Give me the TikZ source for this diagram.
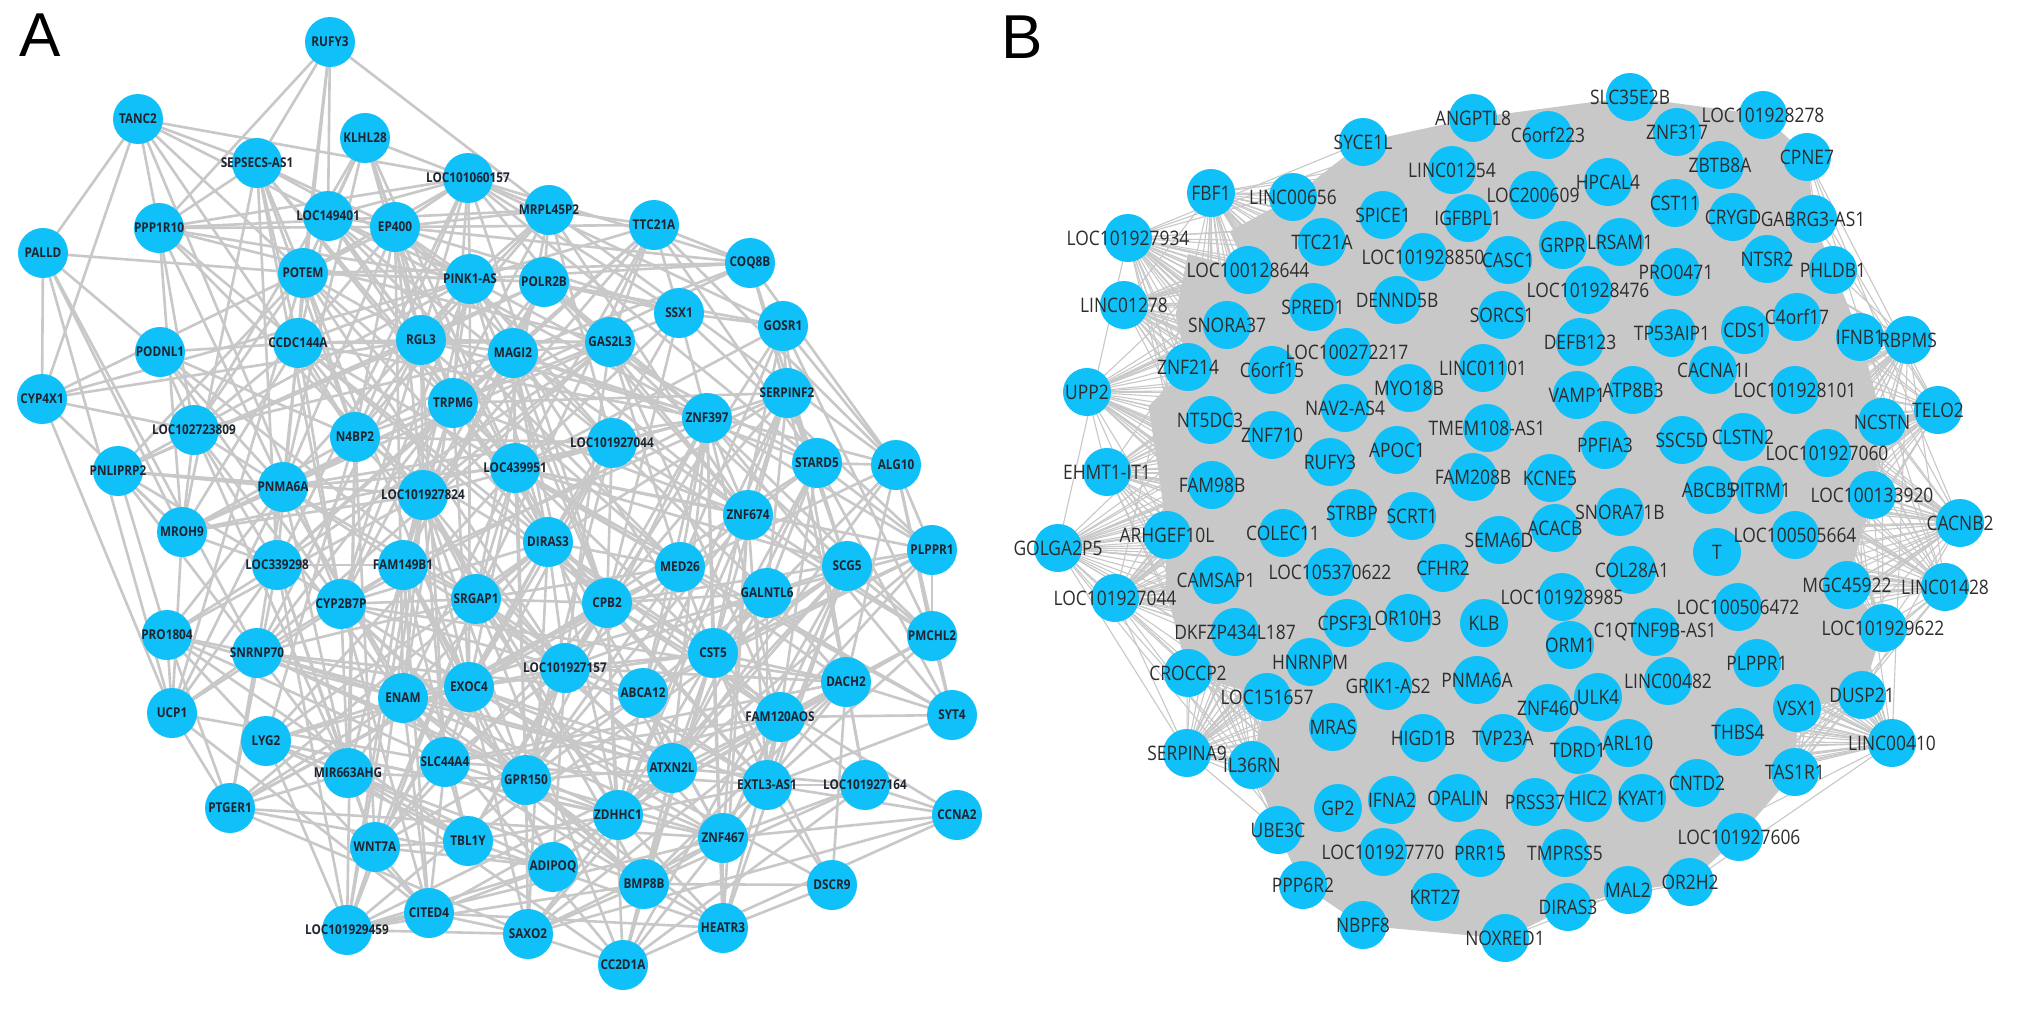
\documentclass[tikz,border=0pt]{standalone}
\usepackage{fontspec}
\setmainfont{Liberation Sans}
\newfontfamily\labfont[FakeStretch=0.87]{Open Sans}
\usetikzlibrary{backgrounds,calc}
\pgfdeclarelayer{bottom}
\pgfsetlayers{bottom,background,main}
\definecolor{nodecyan}{RGB}{16,192,248}
\definecolor{edgegray}{RGB}{200,200,200}
\definecolor{labdark}{RGB}{30,36,48}
\definecolor{labgray}{RGB}{45,45,45}
\tikzset{
 anode/.style={circle,fill=nodecyan,minimum size=50pt,inner sep=0pt},
 bnode/.style={circle,fill=nodecyan,minimum size=48pt,inner sep=0pt},
 alab/.style={inner sep=0pt,text=labdark,font=\labfont\bfseries\fontsize{13.5}{13.5}\selectfont},
 blab/.style={inner sep=0pt,text=labgray,font=\labfont\fontsize{20}{20}\selectfont},
 aedge/.style={draw=edgegray,line width=2.6pt},
 bedge/.style={draw=edgegray,line width=1.1pt},
 bmass/.style={fill=edgegray},
 panellab/.style={inner sep=0pt,font=\fontsize{62}{62}\selectfont}
}
\def\alist{330/42/RUFY3, 138/119/TANC2, 365/138/KLHL28, 257/163/SEPSECS-AS1, 468/178/LOC101060157, 328/216/LOC149401, 395/227/EP400, 159/228/PPP1R10, 43/253/PALLD, 303/273/POTEM, 470/279/PINK1-AS, 160/352/PODNL1, 298/343/CCDC144A, 421/340/RGL3, 42/399/CYP4X1, 453/403/TRPM6, 194/430/LOC102723809, 355/437/N4BP2, 118/471/PNLIPRP2, 283/487/PNMA6A, 423/495/LOC101927824, 549/210/MRPL45P2, 654/225/TTC21A, 750/263/COQ8B, 544/282/POLR2B, 679/313/SSX1, 783/326/GOSR1, 610/342/GAS2L3, 513/353/MAGI2, 787/393/SERPINF2, 707/418/ZNF397, 612/443/LOC101927044, 515/468/LOC439951, 817/463/STARD5, 896/465/ALG10, 748/515/ZNF674, 182/532/MROH9, 277/565/LOC339298, 403/565/FAM149B1, 476/599/SRGAP1, 341/604/CYP2B7P, 167/635/PRO1804, 257/653/SNRNP70, 403/698/ENAM, 469/687/EXOC4, 172/713/UCP1, 266/741/LYG2, 445/762/SLC44A4, 348/773/MIR663AHG, 230/808/PTGER1, 375/847/WNT7A, 468/841/TBL1Y, 429/913/CITED4, 347/930/LOC101929459, 548/542/DIRAS3, 932/550/PLPPR1, 680/567/MED26, 847/566/SCG5, 767/593/GALNTL6, 607/603/CPB2, 932/636/PMCHL2, 713/653/CST5, 565/668/LOC101927157, 846/682/DACH2, 643/693/ABCA12, 952/715/SYT4, 780/717/FAM120AOS, 672/768/ATXN2L, 526/780/GPR150, 767/785/EXTL3-AS1, 865/785/LOC101927164, 957/815/CCNA2, 618/815/ZDHHC1, 723/838/ZNF467, 553/867/ADIPOQ, 644/884/BMP8B, 832/885/DSCR9, 528/934/SAXO2, 723/928/HEATR3, 623/965/CC2D1A}
\def\blist{1128/238/LOC101927934, 1211/193/FBF1, 1293/197/LINC00656, 1363/142/SYCE1L, 1473/118/ANGPTL8, 1452/170/LINC01254, 1383/215/SPICE1, 1468/218/IGFBPL1, 1322/242/TTC21A, 1423/257/LOC101928850, 1248/270/LOC100128644, 1124/305/LINC01278, 1313/307/SPRED1, 1397/300/DENND5B, 1227/325/SNORA37, 1347/352/LOC100272217, 1188/367/ZNF214, 1272/370/C6orf15, 1409/388/MYO18B, 1087/392/UPP2, 1630/97/SLC35E2B, 1548/135/C6orf223, 1677/132/ZNF317, 1763/115/LOC101928278, 1807/157/CPNE7, 1720/165/ZBTB8A, 1608/182/HPCAL4, 1533/195/LOC200609, 1675/203/CST11, 1733/217/CRYGD, 1813/219/GABRG3-AS1, 1563/245/GRPR, 1620/242/LRSAM1, 1508/260/CASC1, 1767/259/NTSR2, 1833/270/PHLDB1, 1676/272/PRO0471, 1588/290/LOC101928476, 1502/315/SORCS1, 1797/317/C4orf17, 1580/342/DEFB123, 1672/333/TP53AIP1, 1745/330/CDS1, 1860/337/IFNB1, 1908/340/RBPMS, 1483/368/LINC01101, 1713/370/CACNA1I, 1795/390/LOC101928101, 1633/390/ATP8B3, 1577/395/VAMP1, 1210/420/NT5DC3, 1272/435/ZNF710, 1345/408/NAV2-AS4, 1487/428/TMEM108-AS1, 1330/462/RUFY3, 1397/450/APOC1, 1107/472/EHMT1-IT1, 1212/485/FAM98B, 1473/477/FAM208B, 1352/513/STRBP, 1412/516/SCRT1, 1058/548/GOLGA2P5, 1167/535/ARHGEF10L, 1283/533/COLEC11, 1499/540/SEMA6D, 1216/580/CAMSAP1, 1330/572/LOC105370622, 1443/568/CFHR2, 1115/598/LOC101927044, 1235/632/DKFZP434L187, 1347/623/CPSF3L, 1408/618/OR10H3, 1484/623/KLB, 1188/673/CROCCP2, 1310/662/HNRNPM, 1388/686/GRIK1-AS2, 1477/680/PNMA6A, 1267/697/LOC151657, 1882/422/NCSTN, 1938/410/TELO2, 1605/445/PPFIA3, 1682/440/SSC5D, 1743/437/CLSTN2, 1827/453/LOC101927060, 1550/478/KCNE5, 1709/490/ABCB5, 1760/490/PITRM1, 1872/495/LOC100133920, 1620/512/SNORA71B, 1960/523/CACNB2, 1555/528/ACACB, 1717/552/T, 1795/535/LOC100505664, 1632/570/COL28A1, 1847/585/MGC45922, 1945/587/LINC01428, 1562/597/LOC101928985, 1738/607/LOC100506472, 1570/645/ORM1, 1655/632/C1QTNF9B-AS1, 1883/628/LOC101929622, 1757/663/PLPPR1, 1668/681/LINC00482, 1862/695/DUSP21, 1598/697/ULK4, 1333/727/MRAS, 1423/738/HIGD1B, 1503/738/TVP23A, 1187/753/SERPINA9, 1252/765/IL36RN, 1338/808/GP2, 1392/800/IFNA2, 1458/798/OPALIN, 1278/830/UBE3C, 1383/852/LOC101927770, 1480/853/PRR15, 1303/885/PPP6R2, 1435/897/KRT27, 1363/925/NBPF8, 1505/938/NOXRED1, 1548/708/ZNF460, 1797/708/VSX1, 1738/732/THBS4, 1578/750/TDRD1, 1628/743/ARL10, 1892/743/LINC00410, 1795/772/TAS1R1, 1697/783/CNTD2, 1535/802/PRSS37, 1588/798/HIC2, 1642/798/KYAT1, 1739/837/LOC101927606, 1565/853/TMPRSS5, 1690/882/OR2H2, 1628/890/MAL2, 1568/907/DIRAS3}
\begin{document}
\begin{tikzpicture}[x=1pt,y=-1pt]
\begin{pgfonlayer}{bottom}
\fill[white] (0,0) rectangle (2029,1017);
\end{pgfonlayer}
\useasboundingbox (0,0) rectangle (2029,1017);
\node[panellab] (labA) at (40,35) {A};
\node[panellab] (labB) at (1022,37) {B};
% panel A nodes
\foreach \x/\y/\t [count=\k from 0] in \alist {\node[anode] (a\k) at (\x,\y) {};}
\foreach \x/\y/\t [count=\k from 0] in \alist {\node[alab] (ta\k) at (a\k) {\t};}
% panel B nodes
\foreach \x/\y/\t [count=\k] in \blist {\node[bnode] (b\k) at (\x,\y) {};}
\foreach \x/\y/\t [count=\k] in \blist {\node[blab] (tb\k) at (b\k) {\t};}
\begin{pgfonlayer}{background}
% panel A connectors
\pgfmathsetseed{11}
\foreach \i in {0,...,78}{
  \pgfmathtruncatemacro\ni{\i+1}
  \foreach \j in {\ni,...,79}{
    \pgfpointanchor{a\i}{center}\pgfgetlastxy\xa\ya
    \pgfpointanchor{a\j}{center}\pgfgetlastxy\xb\yb
    \pgfmathsetmacro\dd{veclen((\xa-\xb)/10,(\ya-\yb)/10)*10}
    \pgfmathtruncatemacro\ok{rnd < (0.62 - \dd/900) ? 1 : 0}
    \ifnum\ok=1 \draw[aedge] (a\i.center) -- (a\j.center);\fi
  }
}
% panel B dense core
\fill[bmass] (b11.center) -- ($(b2)!0.5!(b11)$) -- (b3.center) -- (b4.center) -- (b5.center) -- (b21.center) -- (b24.center) -- (b25.center) -- (b31.center) -- (b36.center) -- (b44.center) -- (b79.center) -- (b88.center) -- (b95.center) -- (b101.center) -- (b104.center) -- (b122.center) -- (b127.center) -- (b132.center) -- (b134.center) -- (b135.center) -- (b136.center) -- (b120.center) -- (b119.center) -- (b117.center) -- (b114.center) -- (b110.center) -- (b78.center) -- (b74.center) -- ($(b69)!0.5!(b66)$) -- (b63.center) -- ($(b57)!0.5!(b58)$) -- ($(b20)!0.5!(b51)$) -- (b17.center) -- ($(b12)!0.5!(b15)$) -- ($(b1)!0.5!(b11)$) -- cycle;
% panel B connectors
\pgfmathsetseed{5}
\foreach \i in {1,...,135}{
  \pgfmathtruncatemacro\ni{\i+1}
  \foreach \j in {\ni,...,136}{
    \pgfmathtruncatemacro\ok{rnd < 0.3 ? 1 : 0}
    \ifnum\ok=1 \draw[bedge] (b\i.center) -- (b\j.center);\fi
  }
}
\end{pgfonlayer}
\end{tikzpicture}
\end{document}
